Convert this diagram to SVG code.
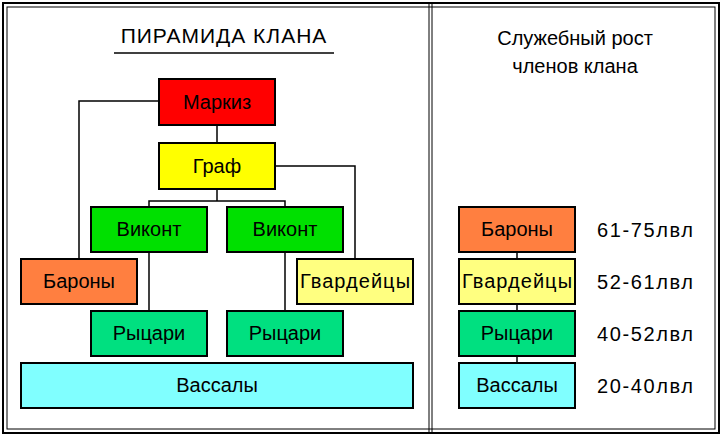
<svg xmlns="http://www.w3.org/2000/svg" width="724" height="436" viewBox="0 0 724 436">
<style>
.b{stroke:#000;stroke-width:2}
.t{font-family:"Liberation Sans",Arial,sans-serif;font-size:20px;text-anchor:middle;fill:#000}
.l{fill:none;stroke:#000;stroke-width:1.5}
</style>
<rect width="724" height="436" fill="#fff"/>
<rect x="3" y="3" width="716" height="430" fill="none" stroke="#000" stroke-width="2"/>
<rect x="7" y="7" width="708" height="422" fill="none" stroke="#000" stroke-width="1"/>
<line x1="429" y1="3" x2="429" y2="433" stroke="#000" stroke-width="1"/>
<line x1="432" y1="3" x2="432" y2="433" stroke="#000" stroke-width="1"/>
<text class="t" x="224" y="43" style="font-size:21px;letter-spacing:1px">ПИРАМИДА КЛАНА</text>
<line x1="114" y1="53" x2="334" y2="53" stroke="#000" stroke-width="1.5"/>
<text class="t" x="575" y="45">Служебный рост</text>
<text class="t" x="575" y="73">членов клана</text>
<g id="connectors" class="l">
<polyline points="159,101 79,101 79,259"/>
<line x1="217" y1="125" x2="217" y2="143"/>
<polyline points="275,166 355,166 355,259"/>
<line x1="217" y1="189" x2="217" y2="201"/>
<polyline points="149,207 149,201 285,201 285,207"/>
<line x1="149" y1="252" x2="149" y2="311"/>
<line x1="285" y1="252" x2="285" y2="311"/>
<line x1="517" y1="252" x2="517" y2="363"/>
</g>
<g id="markiz"><rect class="b" x="159" y="79" width="116" height="46" fill="#ff0000"/><text class="t" x="217" y="109">Маркиз</text></g>
<g id="graf"><rect class="b" x="159" y="143" width="116" height="46" fill="#ffff00"/><text class="t" x="217" y="173">Граф</text></g>
<g id="vikont1"><rect class="b" x="91" y="207" width="116" height="45" fill="#00e000"/><text class="t" x="149" y="236">Виконт</text></g>
<g id="vikont2"><rect class="b" x="227" y="207" width="116" height="45" fill="#00e000"/><text class="t" x="285" y="236">Виконт</text></g>
<g id="barony"><rect class="b" x="21" y="259" width="116" height="45" fill="#ff7f40"/><text class="t" x="79" y="288">Бароны</text></g>
<g id="gvard"><rect class="b" x="297" y="259" width="116" height="45" fill="#ffff80"/><text class="t" x="355" y="288" textLength="110">Гвардейцы</text></g>
<g id="rycari1"><rect class="b" x="91" y="311" width="116" height="45" fill="#00e080"/><text class="t" x="149" y="340">Рыцари</text></g>
<g id="rycari2"><rect class="b" x="227" y="311" width="116" height="45" fill="#00e080"/><text class="t" x="285" y="340">Рыцари</text></g>
<g id="vassaly"><rect class="b" x="21" y="363" width="392" height="45" fill="#80ffff"/><text class="t" x="217" y="392">Вассалы</text></g>
<g id="r-barony"><rect class="b" x="459" y="207" width="116" height="45" fill="#ff7f40"/><text class="t" x="517" y="236">Бароны</text></g>
<g id="r-gvard"><rect class="b" x="459" y="259" width="116" height="45" fill="#ffff80"/><text class="t" x="517" y="288" textLength="110">Гвардейцы</text></g>
<g id="r-rycari"><rect class="b" x="459" y="311" width="116" height="45" fill="#00e080"/><text class="t" x="517" y="340">Рыцари</text></g>
<g id="r-vassaly"><rect class="b" x="459" y="363" width="116" height="45" fill="#80ffff"/><text class="t" x="517" y="392">Вассалы</text></g>
<g class="t" style="text-anchor:start">
<text x="597" y="237" textLength="96">61-75лвл</text>
<text x="597" y="289" textLength="96">52-61лвл</text>
<text x="597" y="341" textLength="96">40-52лвл</text>
<text x="597" y="393" textLength="96">20-40лвл</text>
</g>
</svg>
